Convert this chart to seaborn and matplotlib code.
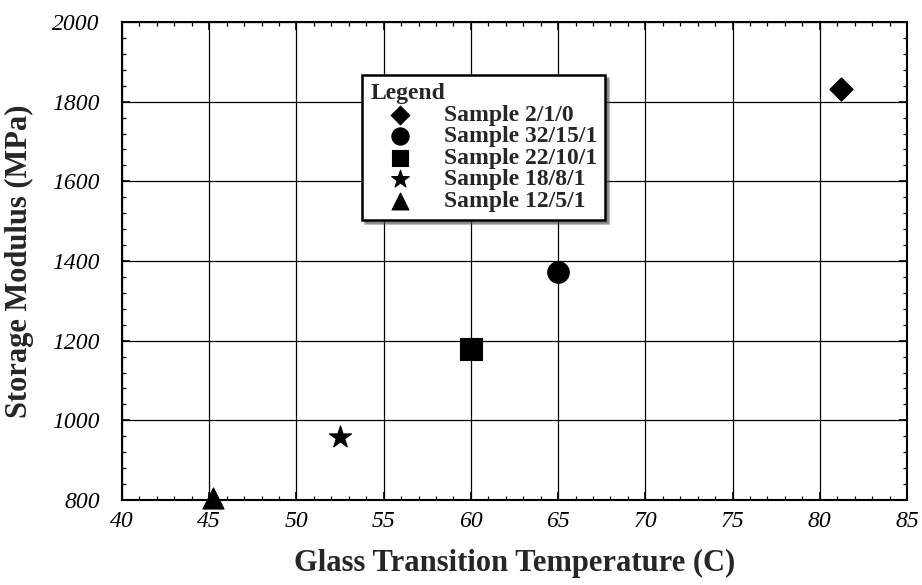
import matplotlib
matplotlib.use('Agg')
import matplotlib.pyplot as plt
import seaborn as sns
import pandas as pd
from matplotlib.ticker import MultipleLocator

# 数据
samples = ['Sample 2/1/0', 'Sample 32/15/1', 'Sample 22/10/1', 'Sample 18/8/1', 'Sample 12/5/1']
tg = [81.2, 65.0, 60.0, 52.5, 45.2]
modulus = [1832, 1372, 1178, 957, 805]
marker_map = {'Sample 2/1/0': 'D', 'Sample 32/15/1': 'o', 'Sample 22/10/1': 's',
              'Sample 18/8/1': '*', 'Sample 12/5/1': '^'}
size_map = {'Sample 2/1/0': 140, 'Sample 32/15/1': 240, 'Sample 22/10/1': 230,
            'Sample 18/8/1': 280, 'Sample 12/5/1': 230}

df = pd.DataFrame({'sample': samples, 'tg': tg, 'modulus': modulus})

sns.set_style('ticks')
plt.rcParams['font.family'] = ['Liberation Serif', 'DejaVu Serif']

fig = plt.figure(figsize=(9.22, 5.85), dpi=100)
ax = fig.add_axes([0.1323, 0.1453, 0.8514, 0.8171])

for s in samples:
    sub = df[df['sample'] == s]
    sns.scatterplot(data=sub, x='tg', y='modulus', marker=marker_map[s], s=size_map[s],
                    color='black', edgecolor='black', linewidth=0.8, label=s, ax=ax,
                    zorder=5, clip_on=False)

ax.set_xlim(40, 85)
ax.set_ylim(800, 2000)
ax.xaxis.set_major_locator(MultipleLocator(5))
ax.xaxis.set_minor_locator(MultipleLocator(1))
ax.yaxis.set_major_locator(MultipleLocator(200))
ax.yaxis.set_minor_locator(MultipleLocator(40))
ax.grid(True, which='major', color='black', linewidth=0.9)
ax.set_axisbelow(True)

ax.tick_params(which='both', direction='in', top=True, right=True, colors='black')
ax.tick_params(which='major', length=6, width=1.2, labelsize=17)
ax.tick_params(axis='x', which='major', pad=8)
ax.tick_params(axis='y', which='major', pad=16)
ax.tick_params(which='minor', length=3, width=0.9)
for lab in ax.get_xticklabels() + ax.get_yticklabels():
    lab.set_fontstyle('italic')
for sp in ax.spines.values():
    sp.set_linewidth(1.5)
    sp.set_color('black')

ax.set_xlabel('Glass Transition Temperature (C)', fontsize=22, fontweight='bold', labelpad=12)
ax.set_ylabel('Storage Modulus (MPa)', fontsize=22, fontweight='bold', labelpad=13)

# 图例
leg = ax.legend(title='Legend', loc='upper left', bbox_to_anchor=(0.306, 0.889),
                frameon=True, fancybox=False, shadow=True, prop={'weight': 'bold', 'size': 17},
                handletextpad=0.6, labelspacing=0.0, borderpad=0.35, markerscale=0.8,
                handlelength=2.5, borderaxespad=0)
leg.get_title().set_fontweight('bold')
leg.get_title().set_fontsize(17)
leg._legend_box.align = 'left'
leg.get_frame().set_edgecolor('black')
leg.get_frame().set_linewidth(1.8)
leg.get_frame().set_alpha(1)

fig.savefig('out.png', dpi=100)
